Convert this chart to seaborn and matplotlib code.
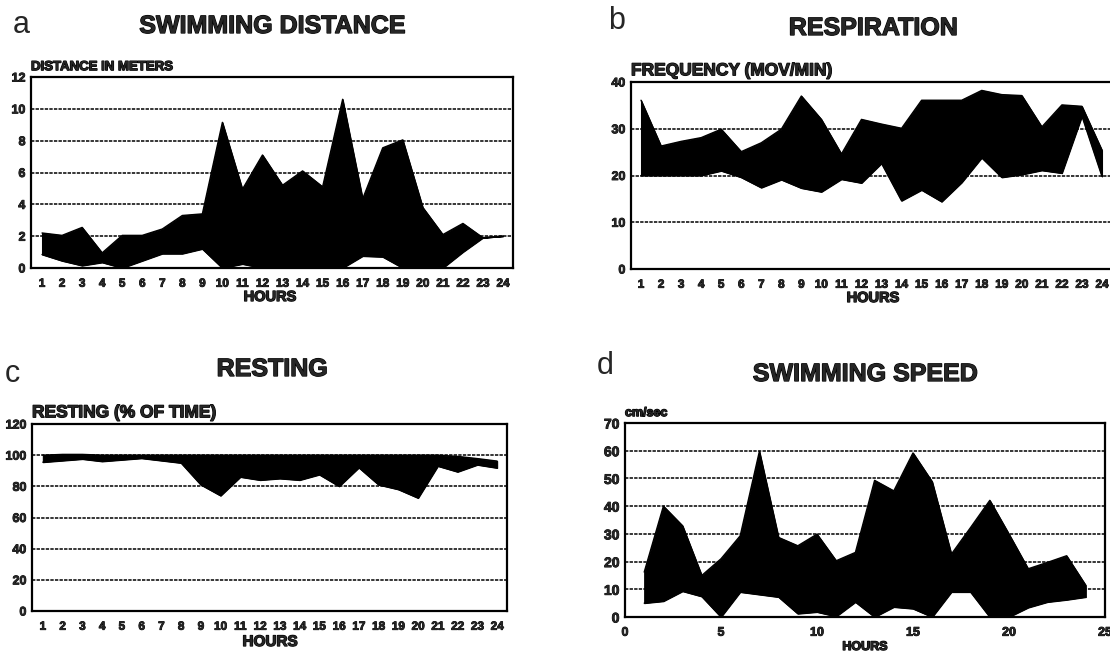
"""Four-panel activity bands (swimming distance, respiration, resting, swimming speed)."""

import matplotlib.patheffects as pe
import matplotlib.pyplot as plt
import pandas as pd
import seaborn as sns

W, H = 1110, 654

HOURS = list(range(1, 25))

# a: swimming distance (m), upper / lower envelope per hour
DIST_UPPER = [2.2, 2.05, 2.55, 0.95, 2.05, 2.05, 2.45, 3.3, 3.4, 9.15, 4.95, 7.1,
              5.2, 6.1, 5.1, 10.6, 4.35, 7.55, 8.05, 3.8, 2.1, 2.8, 1.9, 2.0]
DIST_LOWER = [0.85, 0.45, 0.15, 0.35, 0.0, 0.45, 0.9, 0.9, 1.2, 0.0, 0.25, 0.0,
              0.0, 0.0, 0.0, 0.0, 0.75, 0.7, 0.0, 0.0, 0.0, 1.0, 1.9, 2.0]

# b: respiration frequency (mov/min)
RESP_UPPER = [36.1, 26.3, 27.3, 28.1, 29.9, 25.1, 27.0, 29.9, 37.0, 32.0, 24.6, 32.0,
              31.0, 30.1, 36.1, 36.1, 36.1, 38.2, 37.3, 37.1, 30.4, 35.1, 34.8, 25.4]
RESP_LOWER = [20.0, 20.0, 20.0, 20.0, 21.0, 19.6, 17.4, 19.1, 17.3, 16.5, 19.2, 18.4,
              22.6, 14.6, 16.9, 14.4, 18.5, 23.8, 19.6, 20.2, 21.1, 20.5, 32.7, 19.8]

# c: resting (% of time)
REST_UPPER = [100, 100.5, 100.5, 100, 100, 100, 100, 100, 100, 100, 100, 100,
              100, 100, 100, 100, 100, 100, 100, 100, 100, 99.2, 97.8, 96.2]
REST_LOWER = [95.5, 96.5, 97.5, 96.0, 97.0, 98.0, 96.5, 95.0, 81.0, 74.0, 86.0, 84.0,
              85.0, 84.0, 87.5, 80.0, 92.0, 81.0, 78.0, 72.5, 93.0, 89.3, 93.8, 91.8]

# d: swimming speed (cm/sec)
SPEED_UPPER = [16.2, 40.0, 32.9, 15.0, 21.0, 29.3, 59.8, 28.7, 25.7, 29.9, 20.3, 23.3,
               49.3, 45.5, 59.2, 48.8, 22.7, 32.3, 42.1, 29.9, 17.4, 19.7, 22.1, 11.4]
SPEED_LOWER = [5.0, 5.7, 9.3, 7.4, 0.0, 9.0, 8.1, 7.2, 1.2, 1.8, 0.2, 5.4,
               0.0, 3.6, 3.0, 0.0, 9.0, 9.0, 0.0, 0.0, 3.4, 5.4, 6.2, 7.2]

sns.set_theme(style="white")
plt.rcParams["font.family"] = ["Liberation Sans", "DejaVu Sans"]

HEAVY = [pe.withStroke(linewidth=0.9, foreground="black")]


def box(left, top, right, bottom):
    """Axes rectangle from pixel edges."""
    return [left / W, 1 - bottom / H, (right - left) / W, (bottom - top) / H]


def fig_text(fig, x, y, s, **kw):
    fig.text(x / W, 1 - y / H, s, ha="center", va="center", **kw)


def draw_band(ax, upper, lower):
    df = pd.DataFrame({"hour": HOURS, "upper": upper, "lower": lower})
    ax.fill_between(df["hour"], df["lower"], df["upper"], color="black", lw=0.8,
                    edgecolor="black", zorder=3)
    sns.lineplot(data=df, x="hour", y="upper", color="black", lw=1, ax=ax, zorder=4)
    sns.lineplot(data=df, x="hour", y="lower", color="black", lw=1, ax=ax, zorder=4)


def style_axes(ax, yticks, xticks, xlim, tick_size=8.5, ylab_size=9):
    ax.set_ylim(yticks[0], yticks[-1])
    ax.set_xlim(*xlim)
    ax.set_yticks(yticks)
    ax.set_xticks(xticks)
    ax.set_xlabel("")
    ax.set_ylabel("")
    ax.yaxis.grid(True, color="black", lw=1.1, linestyle=(0, (2.2, 0.8)))
    ax.xaxis.grid(False)
    for spine in ax.spines.values():
        spine.set_linewidth(1.6)
        spine.set_color("black")
    ax.tick_params(axis="x", direction="in", length=5, width=1.4, pad=7,
                   labelsize=tick_size, color="black")
    ax.tick_params(axis="y", length=0, pad=4, labelsize=ylab_size)
    for lab in ax.get_xticklabels() + ax.get_yticklabels():
        lab.set_fontweight("bold")
        lab.set_path_effects([pe.withStroke(linewidth=0.6, foreground="black")])


fig = plt.figure(figsize=(W / 100, H / 100), dpi=100)
fig.patch.set_facecolor("white")

# a
ax_a = fig.add_axes(box(31, 77, 513, 268))
draw_band(ax_a, DIST_UPPER, DIST_LOWER)
style_axes(ax_a, [0, 2, 4, 6, 8, 10, 12], HOURS, (0.45, 24.5))
ax_a.text(0.0, 1.02, "DISTANCE IN METERS", transform=ax_a.transAxes, ha="left",
          va="bottom", fontsize=9.5, fontweight="bold", path_effects=HEAVY)
fig_text(fig, 21, 25, "a", fontsize=22)
fig_text(fig, 272, 26, "SWIMMING DISTANCE", fontsize=18, fontweight="bold",
         path_effects=HEAVY)
fig_text(fig, 270, 297, "HOURS", fontsize=10.5, fontweight="bold", path_effects=HEAVY)

# b
ax_b = fig.add_axes(box(631, 82, 1112, 269))
draw_band(ax_b, RESP_UPPER, RESP_LOWER)
style_axes(ax_b, [0, 10, 20, 30, 40], HOURS, (0.5, 24.5))
ax_b.text(0.0, 1.02, "FREQUENCY (MOV/MIN)", transform=ax_b.transAxes, ha="left",
          va="bottom", fontsize=12.5, fontweight="bold", path_effects=HEAVY)
fig_text(fig, 617, 21, "b", fontsize=22)
fig_text(fig, 873, 28, "RESPIRATION", fontsize=18, fontweight="bold",
         path_effects=HEAVY)
fig_text(fig, 873, 298, "HOURS", fontsize=10.5, fontweight="bold", path_effects=HEAVY)

# c
ax_c = fig.add_axes(box(32, 424, 507, 611))
draw_band(ax_c, REST_UPPER, REST_LOWER)
style_axes(ax_c, [0, 20, 40, 60, 80, 100, 120], HOURS, (0.45, 24.5))
ax_c.text(0.0, 1.02, "RESTING (% OF TIME)", transform=ax_c.transAxes, ha="left",
          va="bottom", fontsize=12.5, fontweight="bold", path_effects=HEAVY)
fig_text(fig, 12, 374, "c", fontsize=22)
fig_text(fig, 272, 369, "RESTING", fontsize=18, fontweight="bold", path_effects=HEAVY)
fig_text(fig, 270, 642, "HOURS", fontsize=11, fontweight="bold", path_effects=HEAVY)

# d
ax_d = fig.add_axes(box(625, 423, 1105, 617))
draw_band(ax_d, SPEED_UPPER, SPEED_LOWER)
style_axes(ax_d, [0, 10, 20, 30, 40, 50, 60, 70], [0, 5, 10, 15, 20, 25], (0, 25),
           tick_size=9, ylab_size=10)
ax_d.text(0.0, 1.02, "cm/sec", transform=ax_d.transAxes, ha="left",
          va="bottom", fontsize=9, fontweight="bold", path_effects=HEAVY)
fig_text(fig, 605, 366, "d", fontsize=22)
fig_text(fig, 865, 374, "SWIMMING SPEED", fontsize=18, fontweight="bold",
         path_effects=HEAVY)
fig_text(fig, 865, 647, "HOURS", fontsize=9, fontweight="bold", path_effects=HEAVY)

fig.savefig("out.png", dpi=100, facecolor="white")
